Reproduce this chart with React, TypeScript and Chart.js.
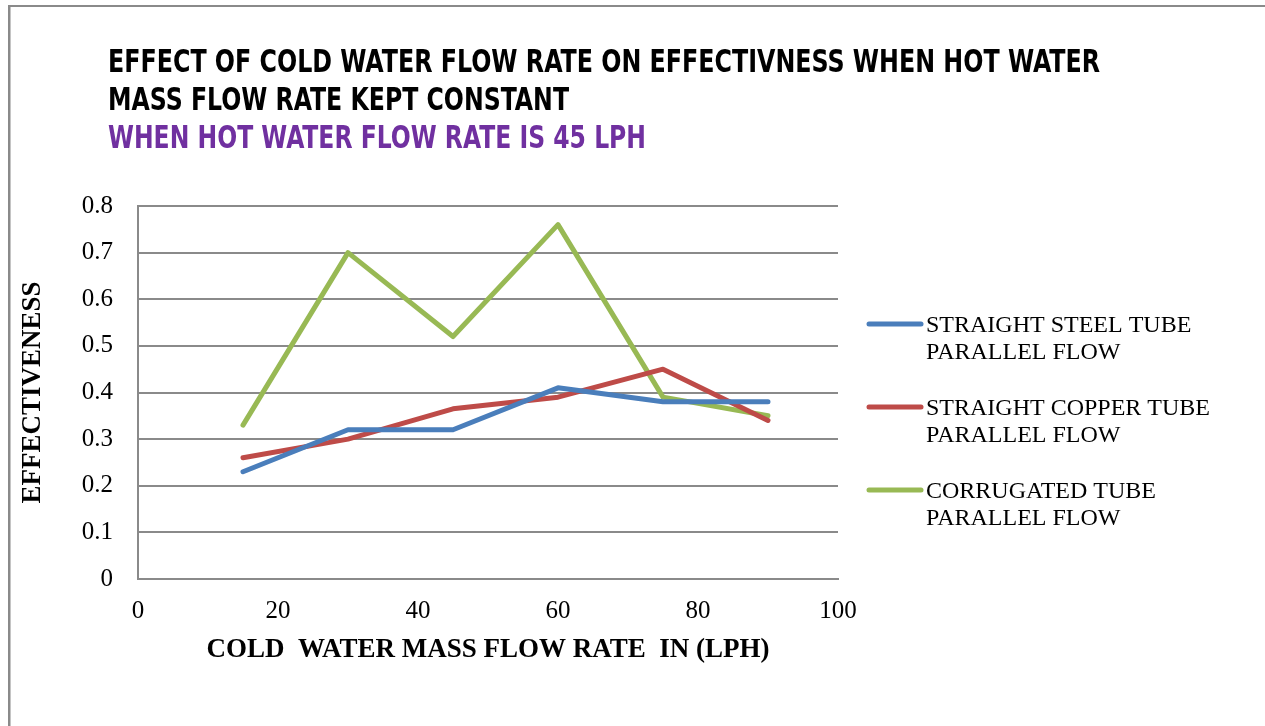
import React, { useEffect, useRef } from "react";
import Chart from "chart.js/auto";

const xValues = [15, 30, 45, 60, 75, 90];
const steelValues = [0.23, 0.32, 0.32, 0.41, 0.38, 0.38];
const copperValues = [0.26, 0.3, 0.365, 0.39, 0.45, 0.34];
const corrugatedValues = [0.33, 0.7, 0.52, 0.76, 0.39, 0.35];

const seriesLabels = [
  ["STRAIGHT STEEL TUBE", "PARALLEL FLOW"],
  ["STRAIGHT COPPER TUBE", "PARALLEL FLOW"],
  ["CORRUGATED TUBE", "PARALLEL FLOW"],
];
const seriesColors = ["#4A7EBB", "#BE4B48", "#98B954"];

const titleLines = [
  "EFFECT OF COLD WATER FLOW RATE ON EFFECTIVNESS WHEN HOT WATER",
  "MASS FLOW RATE KEPT CONSTANT",
];
const subtitleText = "WHEN HOT WATER FLOW RATE IS 45 LPH";
const xTitle = "COLD  WATER MASS FLOW RATE  IN (LPH)";
const yTitle = "EFFECTIVENESS";

const SERIF = '"Liberation Serif", "Times New Roman", serif';
const NARROW = '"Liberation Sans Narrow", "DejaVu Sans Condensed", "Liberation Sans", sans-serif';

const decorPlugin = {
  id: "decor",
  beforeDraw(chart: any) {
    const ctx = chart.ctx;
    ctx.save();
    ctx.fillStyle = "#ffffff";
    ctx.fillRect(0, 0, chart.width, chart.height);
    ctx.fillStyle = "#8a8a8a";
    ctx.fillRect(8, 5, 2.5, chart.height - 5);
    ctx.fillRect(8, 5, chart.width - 8, 2);
    ctx.restore();
  },
  afterDraw(chart: any) {
    const ctx = chart.ctx;
    ctx.save();
    const drawFit = (text: string, x: number, y: number, w: number, color: string) => {
      ctx.font = "bold 32px " + NARROW;
      ctx.fillStyle = color;
      ctx.textBaseline = "alphabetic";
      ctx.textAlign = "left";
      const m = ctx.measureText(text).width;
      ctx.save();
      ctx.translate(x, y);
      ctx.scale(w / m, 1);
      ctx.fillText(text, 0, 0);
      ctx.restore();
    };
    drawFit(titleLines[0], 108, 72, 992, "#000000");
    drawFit(titleLines[1], 108, 110, 461, "#000000");
    drawFit(subtitleText, 108, 148, 538, "#7030A0");

    // legend
    const tops = [324, 407, 490];
    ctx.font = "24px " + SERIF;
    ctx.textAlign = "left";
    ctx.textBaseline = "alphabetic";
    chart.data.datasets.forEach((ds: any, i: number) => {
      const y = tops[i];
      ctx.strokeStyle = ds.borderColor;
      ctx.lineWidth = 5;
      ctx.lineCap = "round";
      ctx.beginPath();
      ctx.moveTo(869, y);
      ctx.lineTo(921, y);
      ctx.stroke();
      ctx.fillStyle = "#000000";
      seriesLabels[i].forEach((t, j) => {
        ctx.fillText(t, 926, y + 8 + j * 27);
      });
    });
    ctx.restore();
  },
};

export default function App() {
  const ref = useRef<HTMLCanvasElement | null>(null);
  useEffect(() => {
    if (!ref.current) return;
    const mk = (vals: number[]) => xValues.map((x, i) => ({ x, y: vals[i] }));
    const chart = new Chart(ref.current, {
      type: "line",
      data: {
        datasets: [steelValues, copperValues, corrugatedValues].map((vals, i) => ({
          label: seriesLabels[i].join(" "),
          data: mk(vals),
          borderColor: seriesColors[i],
          backgroundColor: seriesColors[i],
          borderWidth: 5,
          pointRadius: 0,
          tension: 0,
          borderCapStyle: "round",
          borderJoinStyle: "round",
        })),
      },
      options: {
        responsive: false,
        animation: false,
        devicePixelRatio: 1,
        layout: { padding: { top: 206, right: 427, left: 0, bottom: 0 } },
        plugins: {
          legend: { display: false },
          title: { display: false },
          tooltip: { enabled: false },
        },
        scales: {
          x: {
            type: "linear",
            min: 0,
            max: 100,
            ticks: {
              stepSize: 20,
              color: "#000000",
              font: { family: SERIF, size: 25 },
              padding: 17,
              maxRotation: 0,
            },
            grid: { display: false, drawTicks: false },
            border: { display: true, color: "#8a8a8a", width: 2 },
            title: {
              display: true,
              text: xTitle,
              color: "#000000",
              font: { family: SERIF, size: 27, weight: "bold" },
              padding: { top: 0, bottom: 60 },
            },
            afterFit: (s: any) => {
              s.height = 147;
            },
          },
          y: {
            min: 0,
            max: 0.8,
            ticks: {
              stepSize: 0.1,
              color: "#000000",
              font: { family: SERIF, size: 25 },
              padding: 25,
            },
            grid: { color: "#8a8a8a", lineWidth: 2, drawTicks: false },
            border: { display: true, color: "#8a8a8a", width: 2 },
            title: {
              display: true,
              text: yTitle,
              color: "#000000",
              font: { family: SERIF, size: 27, weight: "bold" },
              padding: { top: 17, bottom: 0 },
            },
            afterFit: (s: any) => {
              s.width = 138;
            },
          },
        },
      },
      plugins: [decorPlugin],
    } as any);
    return () => chart.destroy();
  }, []);
  return (
    <div style={{ position: "absolute", left: 0, top: 0, width: 1265, height: 726 }}>
      <canvas ref={ref} width={1265} height={726} style={{ display: "block" }} />
    </div>
  );
}
